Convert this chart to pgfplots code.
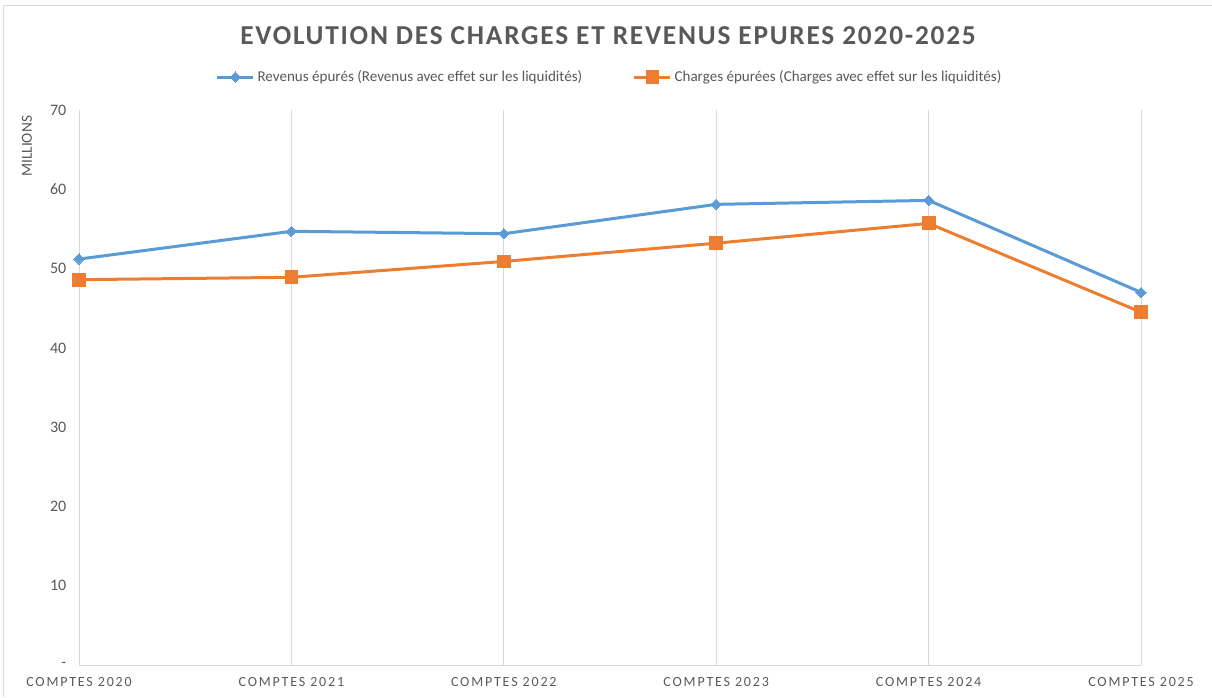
\documentclass[border=0pt]{standalone}
\usepackage{pgfplots}
\pgfplotsset{compat=1.18}
\usepackage{fontspec}
\setmainfont{Carlito}
\newfontfamily\titlefont[LetterSpace=6.5]{Carlito}
\newfontfamily\catfont[LetterSpace=13]{Carlito}
\definecolor{revblue}{HTML}{5B9BD5}
\definecolor{chorange}{HTML}{ED7D31}
\definecolor{txtgray}{HTML}{595959}
\definecolor{gridgray}{HTML}{D9D9D9}

\pgfplotstableread{
x rev ch
0 51.2 48.6
1 54.7 48.9
2 54.4 50.9
3 58.1 53.2
4 58.6 55.7
5 47.0 44.5
}\epures

\begin{document}
\begin{tikzpicture}
% 1 px of the reference = 0.75pt
\path[use as bounding box] (0pt,0pt) rectangle (909pt,522.75pt);
\draw[gridgray,line width=0.75pt] (2.25pt,0pt) -- (2.25pt,518.25pt) -- (909pt,518.25pt);
\node[txtgray,font=\titlefont\bfseries\fontsize{20.5}{24}\selectfont] at (456pt,495.75pt) {EVOLUTION\ DES\ CHARGES\ ET\ REVENUS\ EPURES\ 2020-2025};
\begin{axis}[
  at={(59.25pt,24pt)}, anchor=south west,
  scale only axis, width=796.5pt, height=416.25pt,
  xmin=0, xmax=5, ymin=0, ymax=70,
  xtick=data,
  xticklabels={COMPTES 2020,COMPTES 2021,COMPTES 2022,COMPTES 2023,COMPTES 2024,COMPTES 2025},
  ytick={0,10,20,30,40,50,60,70},
  yticklabels={-,10,20,30,40,50,60,70},
  xticklabel style={font=\catfont\fontsize{10.5}{12}\selectfont, text=txtgray, yshift=-5.5pt},
  yticklabel style={font=\fontsize{12}{14}\selectfont, text=txtgray, xshift=-6pt},
  xmajorgrids, major grid style={gridgray, line width=0.75pt},
  axis line style={draw=none},
  axis x line*=bottom, axis y line*=left,
  x axis line style={draw=gridgray, line width=0.75pt},
  major tick length=0pt,
  clip=false,
  legend columns=2,
  legend style={at={(0.5,1.0)}, anchor=center, yshift=24.75pt, draw=none,
    font=\fontsize{11.3}{13}\selectfont, text=txtgray,
    /tikz/every even column/.append style={column sep=36pt}},
  legend image code/.code={\draw[#1] (0pt,0pt) -- (27pt,0pt); \draw[#1,mark repeat=2,mark phase=2] plot coordinates {(0pt,0pt) (13.5pt,0pt) (27pt,0pt)};},
]
\addplot[revblue, line width=2.25pt, mark=square*, mark size=2.7pt, mark options={solid,fill=revblue,line width=0pt,rotate=45}] table[x=x,y=rev] {\epures};
\addlegendentry{Revenus épurés (Revenus avec effet sur les liquidités)}
\addplot[chorange, line width=2.25pt, mark=square*, mark size=4.8pt, mark options={solid,fill=chorange,line width=0pt}] table[x=x,y=ch] {\epures};
\addlegendentry{Charges épurées (Charges avec effet sur les liquidités)}
\end{axis}
\node[txtgray,rotate=90,font=\fontsize{11.5}{13}\selectfont,anchor=center] at (20.25pt,413pt) {MILLIONS};
\end{tikzpicture}
\end{document}
